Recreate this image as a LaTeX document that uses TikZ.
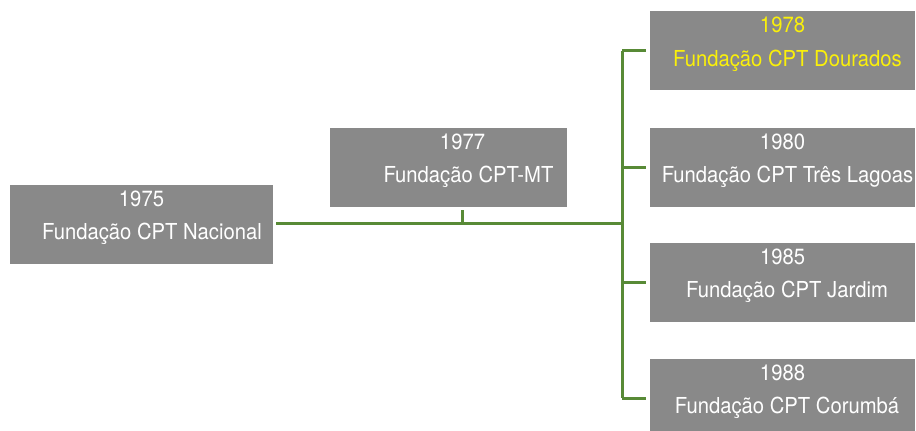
\documentclass[tikz,border=0pt]{standalone}
\usepackage{fontspec}
\setmainfont{TeX Gyre Heros}[FakeStretch=0.92]
\usepackage{xcolor}
\definecolor{boxgray}{RGB}{137,137,137}
\definecolor{linegreen}{RGB}{88,138,54}
\definecolor{hiyellow}{RGB}{250,240,10}
\usetikzlibrary{positioning}
\tikzset{
  yearbox/.style={fill=boxgray, draw=none, minimum height=79pt, inner sep=0pt},
  yeartext/.style={text=white, align=center, yshift=7pt, font=\fontsize{22}{33.5}\selectfont},
  link/.style={linegreen, line width=3pt},
}
\begin{document}
\begin{tikzpicture}[x=1pt, y=1pt]
            \useasboundingbox (0,0) rectangle (916,431);
            \clip (0,0) rectangle (916,431);

            \node[yearbox, minimum width=263pt, label={[yeartext]center:1975\\\hspace{21pt}Fundação CPT Nacional}] (n75) at (141.5,206.5) {};
            \node[yearbox, minimum width=237pt, label={[yeartext, xshift=14pt]center:1977\\\hspace{12pt}Fundação CPT-MT}] (n77) at (448.5,263.5) {};
            \node[yearbox, minimum width=265pt, label={[yeartext, text=hiyellow]center:1978\\\hspace{10pt}Fundação CPT Dourados}] (n78) at (782.5,380) {};
            \node[yearbox, minimum width=265pt, label={[yeartext]center:1980\\\hspace{10pt}Fundação CPT Três Lagoas}] (n80) at (782.5,263.5) {};
            \node[yearbox, minimum width=265pt, label={[yeartext]center:1985\\\hspace{9pt}Fundação CPT Jardim}] (n85) at (782.5,148.5) {};
            \node[yearbox, minimum width=265pt, label={[yeartext]center:1988\\\hspace{9pt}Fundação CPT Corumbá}] (n88) at (782.5,32.5) {};

            \coordinate (hub) at (622,207);
            \draw[link] ([xshift=3pt]n75.east |- hub) -- (hub);
            \draw[link] ([xshift=13.5pt, yshift=-3pt]n77.south) -- ([xshift=13.5pt]n77.south |- hub);
            \draw[link] (hub |- n78.west) -- (hub |- n88.west);
            \foreach \n in {n78, n80, n85, n88}
                \draw[link] (hub |- \n.west) -- ([xshift=-4pt]\n.west);
\end{tikzpicture}
\end{document}
